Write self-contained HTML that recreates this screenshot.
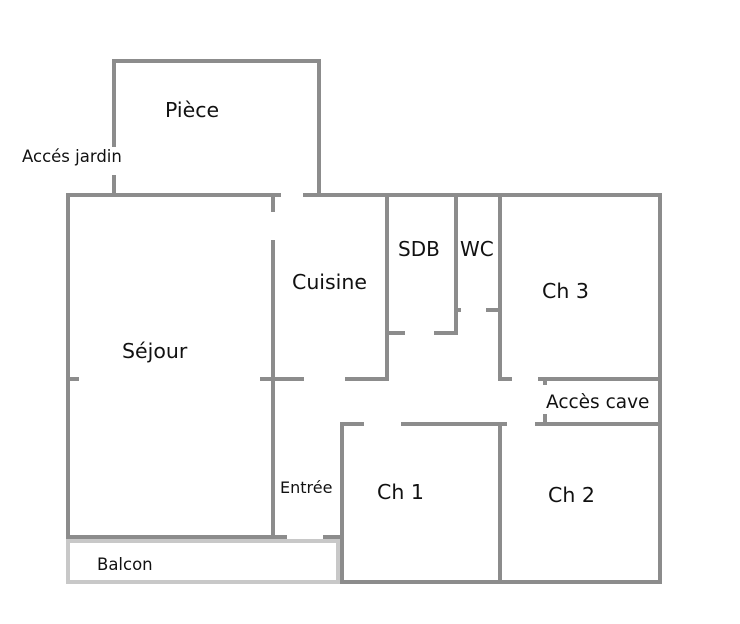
<!DOCTYPE html>
<html><head><meta charset="utf-8"><style>
body{margin:0;background:#fff;}
svg{display:block;}
text{font-family:"DejaVu Sans","Liberation Sans",sans-serif;fill:#111;}
</style></head><body>
<svg width="740" height="624" viewBox="0 0 740 624" xmlns="http://www.w3.org/2000/svg">
<g stroke="#8c8c8c" stroke-width="4" fill="none" stroke-linecap="square">
<polyline points="114,145 114,61 319,61 319,195"/>
<line x1="114" y1="177" x2="114" y2="195"/>
<line x1="68" y1="195" x2="279" y2="195"/>
<line x1="305" y1="195" x2="660" y2="195"/>
<line x1="68" y1="195" x2="68" y2="537"/>
<line x1="660" y1="195" x2="660" y2="582"/>
<line x1="68" y1="537" x2="285" y2="537"/>
<line x1="325" y1="537" x2="340" y2="537"/>
<line x1="342" y1="582" x2="660" y2="582"/>
<line x1="273" y1="195" x2="273" y2="210"/>
<line x1="273" y1="242" x2="273" y2="537"/>
<line x1="68" y1="379" x2="77" y2="379"/>
<line x1="262" y1="379" x2="302" y2="379"/>
<line x1="347" y1="379" x2="387" y2="379"/>
<line x1="387" y1="195" x2="387" y2="379"/>
<line x1="387" y1="333" x2="403" y2="333"/>
<line x1="436" y1="333" x2="456" y2="333"/>
<line x1="456" y1="195" x2="456" y2="333"/>
<line x1="456" y1="310" x2="459" y2="310"/>
<line x1="488" y1="310" x2="500" y2="310"/>
<line x1="500" y1="195" x2="500" y2="379"/>
<line x1="500" y1="379" x2="510" y2="379"/>
<line x1="540" y1="379" x2="660" y2="379"/>
<line x1="545" y1="379" x2="545" y2="383"/>
<line x1="545" y1="416" x2="545" y2="424"/>
<line x1="342" y1="424" x2="362" y2="424"/>
<line x1="403" y1="424" x2="505" y2="424"/>
<line x1="537" y1="424" x2="660" y2="424"/>
<line x1="342" y1="424" x2="342" y2="582"/>
<line x1="500" y1="424" x2="500" y2="582"/>
</g>
<rect x="68" y="541" width="270" height="41" fill="none" stroke="#c8c8c8" stroke-width="4"/>
<text x="165" y="117" font-size="20.5">Pièce</text>
<text x="22" y="162" font-size="16.5">Accés jardin</text>
<text x="292" y="289" font-size="20.5">Cuisine</text>
<text x="122" y="358" font-size="20.5">Séjour</text>
<text x="398" y="256" font-size="20">SDB</text>
<text x="460" y="256" font-size="20">WC</text>
<text x="542" y="298" font-size="20.5">Ch 3</text>
<text x="546" y="408" font-size="18.5">Accès cave</text>
<text x="280" y="493" font-size="16">Entrée</text>
<text x="377" y="499" font-size="20.5">Ch 1</text>
<text x="548" y="502" font-size="20.5">Ch 2</text>
<text x="97" y="570" font-size="16.5">Balcon</text>
</svg>
</body></html>
